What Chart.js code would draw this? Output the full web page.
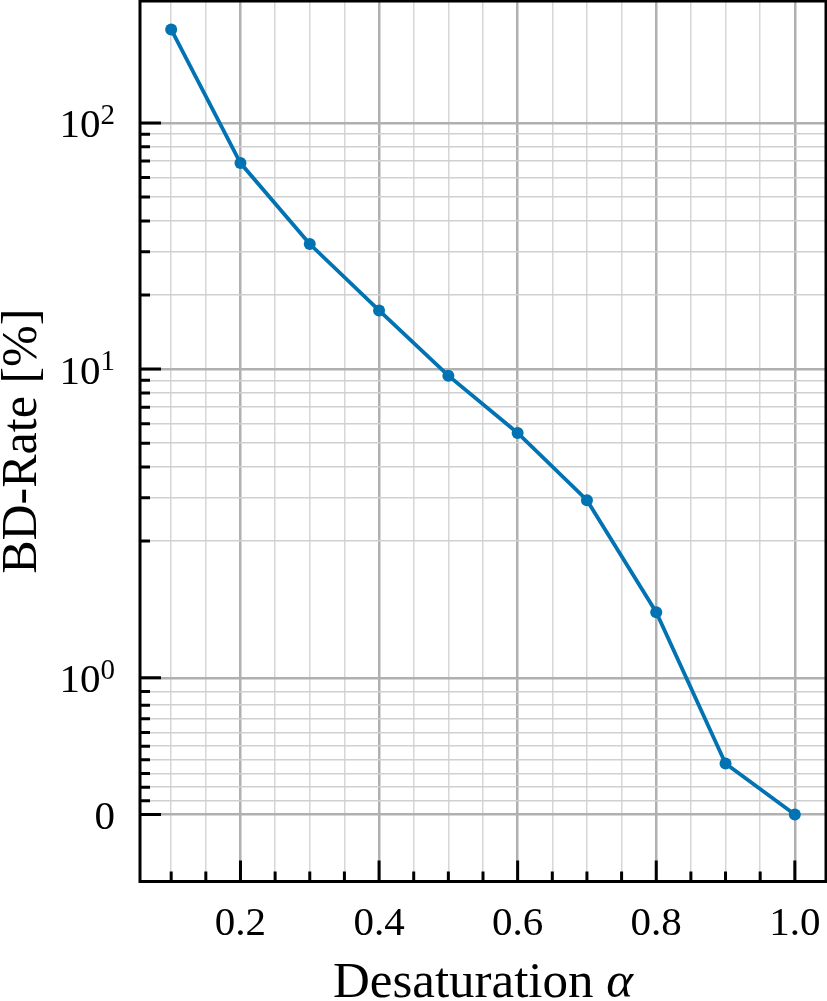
<!DOCTYPE html>
<html>
<head>
<meta charset="utf-8">
<script src="https://cdn.jsdelivr.net/npm/chart.js@4.4.0/dist/chart.umd.min.js"></script>
<style>
  html, body { margin: 0; padding: 0; background: #fff; }
</style>
</head>
<body>
<canvas id="bdChart" width="827" height="1001"></canvas>
<script>
// data
const alphas = [0.1, 0.2, 0.3, 0.4, 0.5, 0.6, 0.7, 0.8, 0.9, 1.0];
const bdRate = [240, 68.7, 32.2, 17.3, 9.4, 5.5, 2.93, 1.48, 0.373, 0];

// axis ticks
const xTicks = [0.1, 0.15, 0.2, 0.25, 0.3, 0.35, 0.4, 0.45, 0.5, 0.55, 0.6, 0.65, 0.7, 0.75, 0.8, 0.85, 0.9, 0.95, 1.0];
const xMajor = [0.2, 0.4, 0.6, 0.8, 1.0];
const xLabels = ['0.2', '0.4', '0.6', '0.8', '1.0'];
const yTicks = [0, 0.1, 0.2, 0.3, 0.4, 0.5, 0.6, 0.7, 0.8, 0.9, 1,
                2, 3, 4, 5, 6, 7, 8, 9, 10,
                20, 30, 40, 50, 60, 70, 80, 90, 100];
const yMajor = [0, 1, 10, 100];
const yLabelBase = ['0', '10', '10', '10'];
const yLabelExp = ['', '0', '1', '2'];

const FONT = '"Liberation Serif", "Times New Roman", serif';
const isXMajor = v => xMajor.some(m => Math.abs(m - v) < 1e-6);
const isYMajor = v => yMajor.includes(v);

// symlog transform like matplotlib (base 10, linthresh 2, linscale 1)
const LINTHRESH = 2;
const LINADJ = 1 / (1 - 1 / 10);
function symlog(v) {
    const a = Math.abs(v);
    if (a <= LINTHRESH) return v * LINADJ;
    return Math.sign(v) * LINTHRESH * (LINADJ + Math.log10(a / LINTHRESH));
}
function symlogInv(t) {
    const a = Math.abs(t);
    if (a <= LINTHRESH * LINADJ) return t / LINADJ;
    return Math.sign(t) * LINTHRESH * Math.pow(10, a / LINTHRESH - LINADJ);
}

const LinScale = Chart.registry.getScale('linear');
class SymlogScale extends LinScale {
    determineDataLimits() {
        this.min = this.options.min;
        this.max = this.options.max;
    }
    buildTicks() {
        return yTicks.map(v => ({ value: v }));
    }
    configure() {
        super.configure();
        this._s0 = symlog(this.min);
        this._s1 = symlog(this.max);
    }
    getPixelForValue(v) {
        return this.getPixelForDecimal((symlog(v) - this._s0) / (this._s1 - this._s0));
    }
    getValueForPixel(p) {
        return symlogInv(this._s0 + this.getDecimalForPixel(p) * (this._s1 - this._s0));
    }
}
SymlogScale.id = 'symlog';
SymlogScale.defaults = LinScale.defaults;
Chart.register(SymlogScale);

// frame, inward ticks, labels and axis titles
const axesDecor = {
    id: 'axesDecor',
    afterDraw(chart) {
        const ctx = chart.ctx;
        const a = chart.chartArea;
        const xs = chart.scales.x, ys = chart.scales.y;
        ctx.save();
        ctx.strokeStyle = '#000';
        ctx.lineWidth = 3;
        ctx.strokeRect(a.left, a.top, a.right - a.left, a.bottom - a.top);

        ctx.lineWidth = 3;
        ctx.beginPath();
        xTicks.forEach(v => {
            const px = xs.getPixelForValue(v);
            const len = isXMajor(v) ? 21 : 10;
            ctx.moveTo(px, a.bottom);
            ctx.lineTo(px, a.bottom - len);
        });
        yTicks.forEach(v => {
            const py = ys.getPixelForValue(v);
            const len = isYMajor(v) ? 21 : 10;
            ctx.moveTo(a.left, py);
            ctx.lineTo(a.left + len, py);
        });
        ctx.stroke();

        ctx.fillStyle = '#000';
        ctx.textBaseline = 'alphabetic';

        // x labels
        ctx.font = '41px ' + FONT;
        ctx.textAlign = 'center';
        xMajor.forEach((v, i) => {
            ctx.fillText(xLabels[i], xs.getPixelForValue(v), a.bottom + 53.5);
        });

        // y labels with exponents
        const right = a.left - 25;
        yMajor.forEach((v, i) => {
            const py = ys.getPixelForValue(v);
            ctx.textAlign = 'right';
            let x = right;
            if (yLabelExp[i]) {
                ctx.font = '29px ' + FONT;
                ctx.fillText(yLabelExp[i], x, py + 1);
                x -= ctx.measureText(yLabelExp[i]).width;
            }
            ctx.font = '41px ' + FONT;
            ctx.fillText(yLabelBase[i], x, py + 14.5);
        });

        // x title
        const t1 = 'Desaturation ';
        const t2 = '\u03B1';
        ctx.font = '51px ' + FONT;
        const w1 = ctx.measureText(t1).width;
        ctx.font = 'italic 51px ' + FONT;
        const w2 = ctx.measureText(t2).width;
        const cx = (a.left + a.right) / 2;
        let sx = cx - (w1 + w2) / 2;
        ctx.textAlign = 'left';
        ctx.font = '51px ' + FONT;
        ctx.fillText(t1, sx, 997);
        ctx.font = 'italic 51px ' + FONT;
        ctx.fillText(t2, sx + w1, 997);

        // y title
        ctx.save();
        ctx.translate(36, (a.top + a.bottom) / 2);
        ctx.rotate(-Math.PI / 2);
        ctx.textAlign = 'center';
        ctx.font = '50px ' + FONT;
        ctx.fillText('BD-Rate [%]', 0, 0);
        ctx.restore();

        ctx.restore();
    }
};

const ctx = document.getElementById('bdChart').getContext('2d');

new Chart(ctx, {
    type: 'line',
    data: {
        labels: alphas,
        datasets: [{
            data: alphas.map((a, i) => ({ x: a, y: bdRate[i] })),
            borderColor: '#0173B2',
            backgroundColor: '#0173B2',
            borderWidth: 3.8,
            pointRadius: 6,
            pointBorderWidth: 0,
            pointBackgroundColor: '#0173B2',
            tension: 0,
            fill: false
        }]
    },
    options: {
        responsive: false,
        animation: false,
        devicePixelRatio: 1,
        layout: { autoPadding: false, padding: { top: 1, right: 1, left: 0, bottom: 0 } },
        plugins: {
            legend: { display: false },
            tooltip: { enabled: false }
        },
        scales: {
            x: {
                type: 'linear',
                min: 0.055,
                max: 1.045,
                bounds: 'data',
                afterBuildTicks: s => { s.ticks = xTicks.map(v => ({ value: v })); },
                ticks: { display: false },
                border: { display: false },
                grid: {
                    drawTicks: false,
                    color: c => isXMajor(c.tick.value) ? '#b0b0b0' : '#d6d6d6',
                    lineWidth: c => isXMajor(c.tick.value) ? 2.5 : 1.5
                },
                afterFit: s => { s.height = 119.5; }
            },
            y: {
                type: 'symlog',
                min: -0.49,
                max: 313,
                position: 'left',
                ticks: { display: false },
                border: { display: false },
                grid: {
                    drawTicks: false,
                    color: c => isYMajor(c.tick.value) ? '#b0b0b0' : '#d0d0d0',
                    lineWidth: c => isYMajor(c.tick.value) ? 2.5 : 1.5
                },
                afterFit: s => { s.width = 140; }
            }
        }
    },
    plugins: [axesDecor]
});
</script>
</body>
</html>
